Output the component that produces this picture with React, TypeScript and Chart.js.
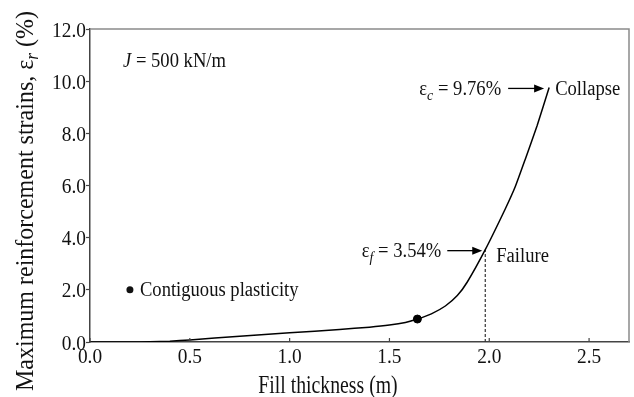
import React, { useEffect, useRef } from "react";
import { Chart, registerables } from "chart.js";
Chart.register(...registerables);

// ---- data ----
const fillThickness = [0, 0.2, 0.3, 0.4, 0.5, 0.75, 1.0, 1.25, 1.4, 1.5, 1.58, 1.64, 1.71, 1.78, 1.84, 1.89, 1.98, 2.08, 2.13, 2.18, 2.24, 2.3];
const maxStrain = [0, 0, 0.005, 0.03, 0.08, 0.22, 0.35, 0.48, 0.57, 0.65, 0.75, 0.88, 1.08, 1.38, 1.78, 2.3, 3.54, 5.1, 5.95, 7.0, 8.3, 9.76];
const plasticityX = [1.64];
const plasticityY = [0.88];
const failureX = 1.98;
const failureStrain = 3.54;
const collapseX = 2.3;
const collapseStrain = 9.76;
const legendMarker = [0.2, 2.0];
const xTickStep = 0.5;
const yTickStep = 2;
const xMax = 2.7;
const yMax = 12;

const SERIF = "'Liberation Serif', 'Times New Roman', serif";

type Run = { t: string; font: string; dy?: number };

function drawRuns(ctx: CanvasRenderingContext2D, runs: Run[], x: number, y: number, align: string, sx = 1, rot = 0, baseline = "alphabetic") {
  ctx.save();
  ctx.translate(x, y);
  if (rot) ctx.rotate(rot);
  ctx.scale(sx, 1);
  ctx.textBaseline = baseline as CanvasTextBaseline;
  ctx.textAlign = "left";
  let total = 0;
  for (const r of runs) {
    ctx.font = r.font;
    total += ctx.measureText(r.t).width;
  }
  let cx = align === "left" ? 0 : align === "center" ? -total / 2 : -total;
  for (const r of runs) {
    ctx.font = r.font;
    ctx.fillText(r.t, cx, r.dy || 0);
    cx += ctx.measureText(r.t).width;
  }
  ctx.restore();
}

function arrow(ctx: CanvasRenderingContext2D, x1: number, x2: number, y: number) {
  ctx.save();
  ctx.strokeStyle = "#000";
  ctx.fillStyle = "#000";
  ctx.lineWidth = 1.3;
  ctx.beginPath();
  ctx.moveTo(x1, y);
  ctx.lineTo(x2 - 8, y);
  ctx.stroke();
  ctx.beginPath();
  ctx.moveTo(x2, y);
  ctx.lineTo(x2 - 10, y - 4);
  ctx.lineTo(x2 - 10, y + 4);
  ctx.closePath();
  ctx.fill();
  ctx.restore();
}

const decorPlugin = {
  id: "decor",
  afterDatasetsDraw(chart: any) {
    const ctx: CanvasRenderingContext2D = chart.ctx;
    const xs = chart.scales.x;
    const ys = chart.scales.y;
    const { left, right, top, bottom } = chart.chartArea;
    ctx.save();
    // top/right frame
    ctx.strokeStyle = "#8a8a8a";
    ctx.lineWidth = 1.5;
    ctx.beginPath();
    ctx.moveTo(left, top);
    ctx.lineTo(right, top);
    ctx.lineTo(right, bottom);
    ctx.stroke();
    // inward x ticks
    ctx.strokeStyle = "#444";
    ctx.lineWidth = 1.2;
    for (const t of xs.ticks) {
      const px = xs.getPixelForValue(t.value);
      ctx.beginPath();
      ctx.moveTo(px, bottom);
      ctx.lineTo(px, bottom - 4);
      ctx.stroke();
    }
    ctx.fillStyle = "#111";
    // tick labels
    const tf = `22px ${SERIF}`;
    for (const t of xs.ticks) {
      const px = xs.getPixelForValue(t.value);
      drawRuns(ctx, [{ t: Number(t.value).toFixed(1), font: tf }], px, bottom + 21, "center", 0.88);
    }
    for (const t of ys.ticks) {
      const py = ys.getPixelForValue(t.value);
      drawRuns(ctx, [{ t: Number(t.value).toFixed(1), font: tf }], left - 4, py + 7.5, "right", 0.88);
    }
    const f20 = `20px ${SERIF}`;
    const i20 = `italic 20px ${SERIF}`;
    const i15 = `italic 15px ${SERIF}`;
    const sa = 0.93;
    // J label
    drawRuns(ctx, [{ t: "J", font: i20 }, { t: " = 500 kN/m", font: f20 }], 123, 67, "left", sa);
    // legend marker
    const lx = xs.getPixelForValue(legendMarker[0]);
    const ly = ys.getPixelForValue(legendMarker[1]);
    ctx.beginPath();
    ctx.arc(lx, ly, 3.5, 0, Math.PI * 2);
    ctx.fill();
    drawRuns(ctx, [{ t: "Contiguous plasticity", font: f20 }], lx + 10, ly + 6, "left", sa);
    // collapse
    const cxp = xs.getPixelForValue(collapseX);
    const cyp = ys.getPixelForValue(collapseStrain) + 1;
    arrow(ctx, cxp - 41, cxp - 5, cyp);
    drawRuns(ctx, [{ t: "ε", font: f20 }, { t: "c", font: i15, dy: 5 }, { t: " = 9.76%", font: f20 }], cxp - 48, cyp + 7, "right", sa);
    drawRuns(ctx, [{ t: "Collapse", font: f20 }], cxp + 6, cyp + 7, "left", sa);
    // failure
    const fxp = xs.getPixelForValue(failureX);
    const fyp = ys.getPixelForValue(failureStrain) + 1;
    arrow(ctx, fxp - 38, fxp - 3, fyp);
    drawRuns(ctx, [{ t: "ε", font: f20 }, { t: "f", font: i15, dy: 5 }, { t: " = 3.54%", font: f20 }], fxp - 44, fyp + 6, "right", sa);
    drawRuns(ctx, [{ t: "Failure", font: f20 }], fxp + 11, fyp + 11, "left", sa);
    // axis titles
    drawRuns(ctx, [{ t: "Fill thickness (m)", font: `26px ${SERIF}` }], 328, 393, "center", 0.76);
    const f25 = `25px ${SERIF}`;
    drawRuns(
      ctx,
      [
        { t: "Maximum reinforcement strains, ε", font: f25 },
        { t: "r", font: `italic 18px ${SERIF}`, dy: 5 },
        { t: " (%)", font: f25 },
      ],
      33,
      201,
      "center",
      0.96,
      -Math.PI / 2
    );
    ctx.restore();
  },
};

export default function App() {
  const ref = useRef<HTMLCanvasElement | null>(null);
  useEffect(() => {
    if (!ref.current) return;
    const chart = new Chart(ref.current, {
      type: "line",
      data: {
        datasets: [
          {
            data: fillThickness.map((x, i) => ({ x, y: maxStrain[i] })),
            borderColor: "#000",
            borderWidth: 1.5,
            pointRadius: 0,
            tension: 0.15,
            fill: false,
          },
          {
            data: plasticityX.map((x, i) => ({ x, y: plasticityY[i] })),
            showLine: false,
            pointRadius: 4,
            pointBackgroundColor: "#000",
            pointBorderColor: "#000",
          },
          {
            data: [
              { x: failureX, y: 0 },
              { x: failureX, y: failureStrain },
            ],
            borderColor: "#333",
            borderWidth: 1.2,
            borderDash: [3, 2],
            pointRadius: 0,
          },
        ],
      },
      options: {
        animation: false,
        responsive: false,
        maintainAspectRatio: false,
        devicePixelRatio: 1,
        layout: { padding: { top: 29, right: 1, left: 0, bottom: 0 } },
        plugins: { legend: { display: false }, tooltip: { enabled: false } },
        scales: {
          x: {
            type: "linear",
            min: 0,
            max: xMax,
            afterFit: (s: any) => {
              s.height = 55;
            },
            ticks: {
              display: false,
              stepSize: xTickStep,
              includeBounds: false,
            },
            grid: { display: true, drawOnChartArea: false, drawTicks: false },
            border: { display: true, color: "#444", width: 1.5 },
          },
          y: {
            type: "linear",
            min: 0,
            max: yMax,
            afterFit: (s: any) => {
              s.width = 90;
            },
            ticks: {
              display: false,
              stepSize: yTickStep,
            },
            grid: { display: true, drawOnChartArea: false, drawTicks: true, tickLength: 4, color: "#444", tickWidth: 1.2 },
            border: { display: true, color: "#444", width: 1.5 },
          },
        },
      },
      plugins: [decorPlugin],
    } as any);
    return () => chart.destroy();
  }, []);
  return (
    <div style={{ position: "absolute", left: 0, top: 0, width: 634, height: 397, background: "#fff" }}>
      <canvas ref={ref} width={634} height={397} style={{ display: "block" }} />
    </div>
  );
}
